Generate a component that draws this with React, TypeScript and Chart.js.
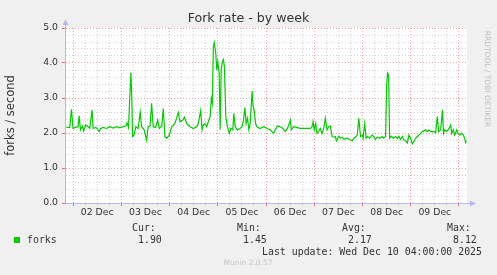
import { useEffect, useRef } from 'react';
import { Chart, registerables } from 'chart.js';

Chart.register(...registerables);

// hours since 02 Dec 00:00
const hours = [
  -3.3, -1.65, -0.8, 0, 1.2, 2.5, 3, 3.7, 4.7, 5.3, 6.3, 7.5, 8.3, 9.5, 10, 11.3, 12.2, 13, 13.8, 15,
  16.7, 18.3, 20, 21.6, 23.3, 24.9, 26.3, 26.9, 27.6, 28.1, 28.8, 29.3, 29.6, 30.3, 31.3, 32.4, 33.4, 34.1, 35.4, 36.6,
  37.4, 38.3, 39.1, 39.9, 41.1, 42.1, 42.9, 44.1, 44.9, 45.7, 46.6, 47.9, 49.1, 50.7, 52.4, 53.2, 54.6, 55.4, 56.6, 58.2,
  59.9, 61.5, 62.3, 63.5, 64.2, 64.8, 65.7, 66.5, 67.3, 68.2, 68.8, 69.3, 69.8, 70.3, 71, 71.5, 72, 72.7, 73.2, 73.7,
  74.3, 74.8, 75.3, 76, 76.8, 77.8, 78.5, 79.5, 80, 80.7, 81.8, 83.1, 84.1, 84.8, 85.5, 86.1, 86.8, 87.5, 88.1, 88.6,
  89.1, 89.6, 90.1, 90.8, 91.5, 93.1, 94.8, 96.5, 98.1, 99.8, 100.6, 101.7, 103.1, 104.4, 105.6, 106.7, 108.1, 108.6, 109.7, 111.1,
  113.1, 115.6, 118.1, 118.9, 119.4, 120, 120.7, 121.4, 122.2, 123, 123.9, 124.7, 125.5, 126.4, 127.2, 128, 128.9, 129.7, 130.5, 131,
  132.2, 133, 133.9, 134.7, 136.4, 138, 138.9, 139.7, 140.5, 141.4, 142.2, 143, 143.9, 144.3, 145.1, 145.8, 146.6, 147.6, 148.8, 149.6,
  150.5, 151.3, 152.6, 153.8, 154.6, 155.5, 156, 156.5, 157, 157.5, 158.3, 159.3, 160.5, 161.3, 162.1, 162.9, 163.8, 164.6, 165.4, 166.3,
  167.1, 167.9, 168.8, 169.6, 170.4, 171.3, 172.1, 172.9, 173.8, 174.6, 175.4, 176.3, 177.1, 177.9, 179.6, 180.4, 181.2, 181.9, 182.9, 183.8,
  184.3, 184.9, 185.9, 187.1, 187.9, 188.4, 189.2, 189.9, 190.9, 191.5, 192.5, 193.2, 194.2, 194.8, 195.3, 195.8,
];

const forks = [
  2.16, 2.16, 2.68, 2.13, 2.16, 2.18, 2.49, 2.09, 2.2, 2.06, 2.23, 2.18, 2.13, 2.66, 2.13, 2.16, 2.11, 2.04, 2.13, 2.16,
  2.13, 2.18, 2.14, 2.18, 2.15, 2.18, 2.2, 2.29, 2.16, 2.85, 3.73, 2.85, 1.9, 1.94, 2.18, 2.13, 2.6, 2.18, 2.09, 1.8,
  2.18, 2.2, 2.85, 2.18, 2.16, 2.37, 2.13, 2.2, 2.7, 1.9, 1.85, 1.94, 2.18, 2.27, 2.59, 2.32, 2.37, 2.45, 2.27, 2.18,
  2.13, 2.18, 2.27, 2.64, 2.09, 2.23, 2.27, 2.18, 2.32, 2.47, 2.99, 2.85, 4.47, 4.58, 4.28, 3.8, 4.04, 3.71, 2.09, 3.8,
  4.04, 4.1, 3.9, 2.47, 2.18, 1.99, 2.13, 2.09, 2.56, 2.18, 2.09, 2.13, 2.18, 2.37, 2.73, 2.27, 2.42, 2.09, 2.27, 2.73,
  3.2, 2.75, 2.66, 2.27, 2.18, 2.13, 2.18, 2.13, 2.09, 1.99, 2.09, 2.2, 2.18, 2.13, 2.04, 2.13, 2.37, 2.09, 2.18, 2.16,
  2.13, 2.13, 2.13, 2.18, 2.32, 2.09, 2.27, 1.99, 2.04, 2.13, 1.99, 2.13, 2.42, 2.09, 2.18, 2.2, 1.9, 1.88, 1.9, 1.78,
  1.91, 1.85, 1.88, 1.82, 1.85, 1.8, 1.78, 1.85, 1.88, 1.94, 2.42, 1.9, 1.94, 1.85, 2.27, 1.85, 1.9, 1.85, 1.94, 1.9,
  1.82, 1.88, 1.85, 1.9, 1.85, 1.9, 3.32, 3.71, 3.66, 1.85, 1.91, 1.85, 1.9, 1.85, 1.91, 1.82, 1.9, 1.8, 1.78, 1.71,
  1.94, 1.85, 1.69, 1.76, 1.85, 1.9, 1.94, 1.99, 2.04, 2.06, 2.09, 2.04, 2.09, 2.04, 2.04, 2.01, 2.47, 2.04, 2.09, 2.66,
  1.99, 2.09, 2.04, 2.13, 2.23, 1.99, 2.09, 1.94, 2.09, 1.99, 1.94, 1.99, 1.94, 1.85, 1.73, 1.78,
];

const dayLabels = ['02 Dec', '03 Dec', '04 Dec', '05 Dec', '06 Dec', '07 Dec', '08 Dec', '09 Dec'];
const legendHeads = ['Cur:', 'Min:', 'Avg:', 'Max:'];
const legendValues = ['1.90', '1.45', '2.17', '8.12'];
const seriesName = 'forks';
const titleText = 'Fork rate - by week';
const yTitle = 'forks / second';
const lastUpdate = 'Last update: Wed Dec 10 04:00:00 2025';
const watermark = 'Munin 2.0.57';
const sideText = 'RRDTOOL / TOBI OETIKER';

const GREEN = '#00cc00';
const MAJOR = '#e8a4a4';
const MINOR = '#d2d2d2';
const AXIS = '#b8b8f0';
const TXT = '#333333';

const munin = {
  id: 'munin',
  beforeDraw(chart: any) {
    const { ctx, chartArea: a } = chart;
    ctx.save();
    ctx.fillStyle = '#f0f0f0';
    ctx.fillRect(0, 0, chart.width, chart.height);
    ctx.fillStyle = '#ffffff';
    ctx.fillRect(a.left, a.top, a.right - a.left, a.bottom - a.top);
    ctx.restore();
  },
  afterDraw(chart: any) {
    const { ctx, chartArea: a } = chart;
    ctx.save();
    // axis extensions and arrows
    ctx.strokeStyle = AXIS;
    ctx.fillStyle = AXIS;
    ctx.lineWidth = 1;
    ctx.beginPath();
    ctx.moveTo(a.left + 0.5, a.top);
    ctx.lineTo(a.left + 0.5, a.top - 4);
    ctx.moveTo(a.right, a.bottom + 0.5);
    ctx.lineTo(a.right + 4, a.bottom + 0.5);
    ctx.stroke();
    ctx.beginPath();
    ctx.moveTo(a.left + 0.5, a.top - 9);
    ctx.lineTo(a.left - 2.5, a.top - 3);
    ctx.lineTo(a.left + 3.5, a.top - 3);
    ctx.closePath();
    ctx.fill();
    ctx.beginPath();
    ctx.moveTo(a.right + 9, a.bottom + 0.5);
    ctx.lineTo(a.right + 3, a.bottom - 2.5);
    ctx.lineTo(a.right + 3, a.bottom + 3.5);
    ctx.closePath();
    ctx.fill();

    // title
    ctx.fillStyle = TXT;
    ctx.textBaseline = 'middle';
    ctx.textAlign = 'center';
    ctx.font = '12.6px "DejaVu Sans"';
    ctx.fillText(titleText, chart.width / 2, 19);

    // y title
    ctx.save();
    ctx.translate(11, (a.top + a.bottom) / 2);
    ctx.rotate(-Math.PI / 2);
    ctx.font = '11.5px "DejaVu Sans"';
    ctx.fillText(yTitle, 0, 0);
    ctx.restore();

    // side text
    ctx.save();
    ctx.translate(487, 79);
    ctx.rotate(Math.PI / 2);
    ctx.fillStyle = '#bdbdbd';
    ctx.font = '7.5px "DejaVu Sans"';
    ctx.fillText(sideText, 0, 0);
    ctx.restore();

    // legend
    ctx.fillStyle = GREEN;
    ctx.fillRect(14, 237, 6, 6);
    ctx.fillStyle = TXT;
    ctx.textAlign = 'left';
    ctx.font = '9.9px "DejaVu Sans Mono"';
    ctx.fillText(seriesName, 27, 240);
    const heads = [132, 237, 342, 447];
    legendHeads.forEach((h, i) => {
      ctx.fillText(h, heads[i], 228);
      ctx.fillText(legendValues[i], heads[i] + 6, 240);
    });
    ctx.textAlign = 'right';
    ctx.fillText(lastUpdate, 482, 252);

    ctx.textAlign = 'center';
    ctx.fillStyle = '#c4c4c4';
    ctx.font = '7.5px "DejaVu Sans"';
    ctx.fillText(watermark, 248, 263.5);
    ctx.restore();
  },
};

export default function App() {
  const ref = useRef<HTMLCanvasElement>(null);
  useEffect(() => {
    const canvas = ref.current;
    if (!canvas) return;
    const points = hours.map((h, i) => ({ x: h, y: forks[i] }));
    const chart = new Chart(canvas, {
      type: 'line',
      data: {
        datasets: [
          {
            label: seriesName,
            data: points,
            borderColor: GREEN,
            borderWidth: 1.2,
            pointRadius: 0,
            tension: 0,
            fill: false,
          },
        ],
      },
      options: {
        animation: false,
        responsive: false,
        events: [],
        layout: { padding: { left: 0, top: 28, right: 30, bottom: 0 } },
        plugins: { legend: { display: false }, title: { display: false }, tooltip: { enabled: false } },
        scales: {
          x: {
            type: 'linear',
            min: -4,
            max: 196,
            afterFit: (s: any) => {
              s.height = 72;
            },
            afterBuildTicks: (s: any) => {
              const t = [];
              for (let v = 0; v <= 192; v += 6) t.push({ value: v });
              s.ticks = t;
            },
            ticks: {
              autoSkip: false,
              maxRotation: 0,
              padding: 1,
              color: TXT,
              font: { family: 'DejaVu Sans', size: 9.3 },
              callback: (v: any) => {
                const n = Number(v);
                if (n % 24 === 12) return dayLabels[Math.floor(n / 24)] ?? '';
                return '';
              },
            },
            grid: {
              color: (c: any) => (c.tick && c.tick.value % 24 === 0 ? MAJOR : MINOR),
              tickColor: (c: any) => (c.tick && c.tick.value % 24 === 0 ? '#e07070' : MINOR),
              tickLength: 3,
              lineWidth: 1,
            },
            border: { display: true, color: AXIS, dash: [1, 2] },
          },
          y: {
            type: 'linear',
            min: 0,
            max: 5,
            afterFit: (s: any) => {
              s.width = 65;
            },
            afterBuildTicks: (s: any) => {
              const t = [];
              for (let i = 0; i <= 25; i++) t.push({ value: i / 5 });
              s.ticks = t;
            },
            ticks: {
              autoSkip: false,
              padding: 4,
              color: TXT,
              font: { family: 'DejaVu Sans', size: 9.3 },
              callback: (v: any) => {
                const n = Number(v);
                return Math.abs(n - Math.round(n)) < 1e-6 ? n.toFixed(1) : '';
              },
            },
            grid: {
              color: (c: any) =>
                c.tick && Math.abs(c.tick.value - Math.round(c.tick.value)) < 1e-6 ? MAJOR : MINOR,
              tickColor: (c: any) =>
                c.tick && Math.abs(c.tick.value - Math.round(c.tick.value)) < 1e-6 ? '#e07070' : 'rgba(0,0,0,0)',
              tickLength: 3,
              lineWidth: 1,
            },
            border: { display: true, color: AXIS, dash: [1, 2] },
          },
        },
      },
      plugins: [munin],
    });
    return () => chart.destroy();
  }, []);
  return (
    <div style={{ position: 'fixed', left: 0, top: 0, width: 497, height: 275 }}>
      <canvas ref={ref} width={497} height={275} style={{ width: 497, height: 275, display: 'block' }} />
    </div>
  );
}
